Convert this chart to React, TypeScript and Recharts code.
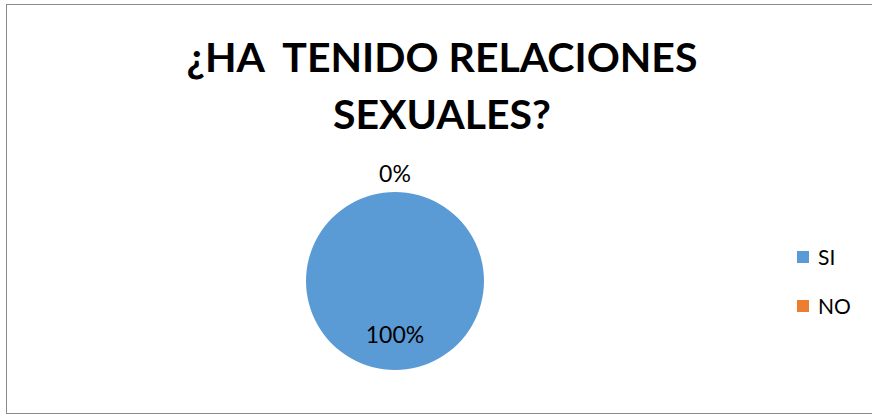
import { Cell, Legend, Pie, PieChart } from "recharts";

const categories = ["SI", "NO"];
const values = [100, 0];
const colors = ["#5B9BD5", "#ED7D31"];
const titleLines = ["¿HA  TENIDO RELACIONES", "SEXUALES?"];

const data = categories.map((name, i) => ({ name, value: values[i] }));

const RAD = Math.PI / 180;

const renderLabel = (props: any) => {
	const { cx, cy, midAngle, outerRadius, percent, index } = props;
	// big slice label sits inside, empty slice label goes outside
	const r = index === 0 ? outerRadius * 0.6 : outerRadius + 19;
	const x = cx + r * Math.cos(-midAngle * RAD);
	const y = cy + r * Math.sin(-midAngle * RAD);
	return (
		<text
			x={x}
			y={y}
			fill="#000"
			fontSize={23}
			fontFamily="Lato"
			textAnchor="middle"
			dominantBaseline="central"
		>
			{`${Math.round(percent * 100)}%`}
		</text>
	);
};

const renderLegend = (props: any) => {
	const items = [...(props.payload || [])].sort(
		(a: any, b: any) => categories.indexOf(a.value) - categories.indexOf(b.value),
	);
	return (
		<div style={{ fontFamily: "Lato", fontSize: 21, color: "#000" }}>
			{items.map((entry: any) => (
				<div
					key={entry.value}
					style={{ display: "flex", alignItems: "center", height: 49 }}
				>
					<span
						style={{
							width: 12,
							height: 12,
							flexShrink: 0,
							background: entry.color,
							marginRight: 9,
						}}
					/>
					<span>{entry.value}</span>
				</div>
			))}
		</div>
	);
};

export default function App() {
	return (
		<div
			style={{
				position: "absolute",
				left: 0,
				top: 0,
				width: 872,
				height: 416,
				background: "#fff",
			}}
		>
			<div
				style={{
					position: "absolute",
					left: 6,
					top: 4,
					width: 866,
					height: 410,
					border: "1px solid #8a8a8a",
					borderRight: "none",
					boxSizing: "border-box",
				}}
			/>
			<svg
				width={872}
				height={140}
				style={{ position: "absolute", left: 0, top: 0 }}
			>
				{titleLines.map((line, i) => (
					<text
						key={line}
						x={442}
						y={72 + i * 57}
						textAnchor="middle"
						fontFamily="Lato"
						fontWeight="bold"
						fontSize={41}
						fill="#000"
					>
						{line.replace(/ {2}/g, "\u00a0 ")}
					</text>
				))}
			</svg>
			<PieChart
				width={872}
				height={416}
				margin={{ top: 0, right: 0, bottom: 0, left: 0 }}
				style={{ position: "absolute", left: 0, top: 0 }}
			>
				<Pie
					data={data}
					dataKey="value"
					nameKey="name"
					cx={395}
					cy={281}
					outerRadius={89}
					startAngle={90}
					endAngle={-270}
					stroke="none"
					label={renderLabel}
					labelLine={false}
					isAnimationActive={false}
				>
					{data.map((d, i) => (
						<Cell key={d.name} fill={colors[i]} />
					))}
				</Pie>
				<Legend
					content={renderLegend}
					layout="vertical"
					wrapperStyle={{ left: 797, top: 232, width: 70 }}
				/>
			</PieChart>
		</div>
	);
}
